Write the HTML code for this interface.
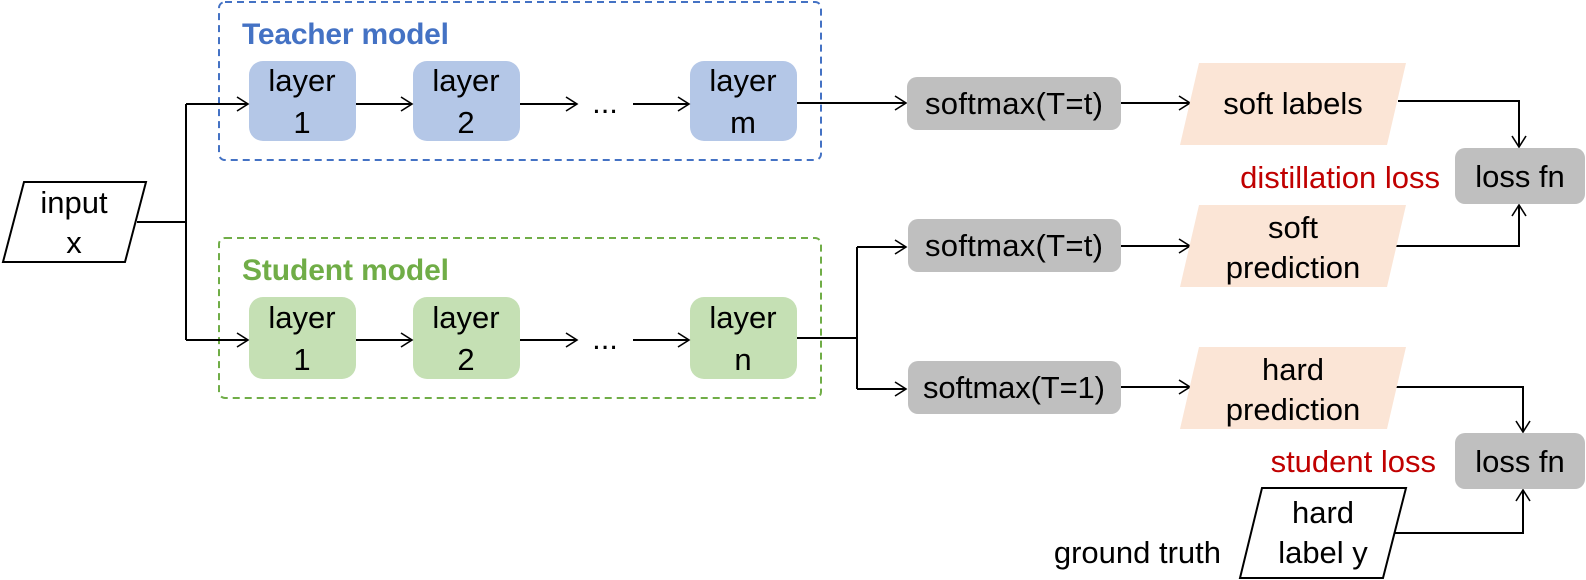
<!DOCTYPE html>
<html><head><meta charset="utf-8"><style>
html,body{margin:0;padding:0;background:#fff;}
svg{display:block;}
text{font-family:"Liberation Sans",sans-serif;}
</style></head><body>
<svg width="1586" height="580" viewBox="0 0 1586 580" xmlns="http://www.w3.org/2000/svg">
<defs>
<marker id="a" markerWidth="14" markerHeight="16" refX="12" refY="8" orient="auto" markerUnits="userSpaceOnUse">
<polyline points="1,1 12,8 1,15" fill="none" stroke="#000" stroke-width="1.6"/>
</marker>
</defs>
<g fill="none" stroke-width="2" stroke-dasharray="7,5">
<rect x="219" y="2" width="602" height="158" rx="6" stroke="#4472C4"/>
<rect x="219" y="238" width="602" height="160" rx="6" stroke="#70AD47"/>
</g>
<text x="242" y="44" font-size="30" font-weight="bold" fill="#4472C4" textLength="207">Teacher model</text>
<text x="242" y="280" font-size="30" font-weight="bold" fill="#70AD47" textLength="207">Student model</text>

<g fill="#B4C7E7">
<rect x="249" y="61" width="107" height="80" rx="14"/>
<rect x="413" y="61" width="107" height="80" rx="14"/>
<rect x="690" y="61" width="107" height="80" rx="14"/>
</g>
<g fill="#C5E0B4">
<rect x="249" y="297" width="107" height="82" rx="14"/>
<rect x="413" y="297" width="107" height="82" rx="14"/>
<rect x="690" y="297" width="107" height="82" rx="14"/>
</g>
<g font-size="31" text-anchor="middle" fill="#000">
<text x="302" y="91">layer</text><text x="302" y="133">1</text>
<text x="466" y="91">layer</text><text x="466" y="133">2</text>
<text x="743" y="91">layer</text><text x="743" y="133">m</text>
<text x="302" y="328">layer</text><text x="302" y="370">1</text>
<text x="466" y="328">layer</text><text x="466" y="370">2</text>
<text x="743" y="328">layer</text><text x="743" y="370">n</text>
<text x="605" y="113">...</text>
<text x="605" y="349">...</text>
</g>

<polygon points="24,182 146,182 125,262 3,262" fill="#fff" stroke="#000" stroke-width="2"/>
<text x="74" y="213" font-size="31" text-anchor="middle">input</text>
<text x="74" y="253" font-size="31" text-anchor="middle">x</text>

<g stroke="#000" stroke-width="2" fill="none">
<polyline points="137,222 186,222"/>
<polyline points="186,104 186,340"/>
<line x1="186" y1="104" x2="248" y2="104" marker-end="url(#a)"/>
<line x1="186" y1="340" x2="248" y2="340" marker-end="url(#a)"/>
<line x1="356" y1="104" x2="412" y2="104" marker-end="url(#a)"/>
<line x1="520" y1="104" x2="577" y2="104" marker-end="url(#a)"/>
<line x1="633" y1="104" x2="689" y2="104" marker-end="url(#a)"/>
<line x1="356" y1="340" x2="412" y2="340" marker-end="url(#a)"/>
<line x1="520" y1="340" x2="577" y2="340" marker-end="url(#a)"/>
<line x1="633" y1="340" x2="689" y2="340" marker-end="url(#a)"/>
<line x1="797" y1="103" x2="906" y2="103" marker-end="url(#a)"/>
<polyline points="797,338 857,338"/>
<polyline points="857,247 857,389"/>
<line x1="857" y1="247" x2="906" y2="247" marker-end="url(#a)"/>
<line x1="857" y1="389" x2="906" y2="389" marker-end="url(#a)"/>
<line x1="1121" y1="103" x2="1190" y2="103" marker-end="url(#a)"/>
<line x1="1121" y1="246" x2="1190" y2="246" marker-end="url(#a)"/>
<line x1="1121" y1="387" x2="1190" y2="387" marker-end="url(#a)"/>
<polyline points="1398,101 1519,101 1519,147" marker-end="url(#a)"/>
<polyline points="1395,246 1519,246 1519,205" marker-end="url(#a)"/>
<polyline points="1395,387 1523,387 1523,432" marker-end="url(#a)"/>
<polyline points="1390,533 1523,533 1523,490" marker-end="url(#a)"/>
</g>

<g fill="#BFBFBF">
<rect x="907" y="77" width="214" height="53" rx="10"/>
<rect x="908" y="219" width="213" height="53" rx="10"/>
<rect x="908" y="361" width="213" height="53" rx="10"/>
<rect x="1455" y="148" width="130" height="56" rx="10"/>
<rect x="1455" y="433" width="130" height="56" rx="10"/>
</g>
<g fill="#FBE5D6">
<polygon points="1199,63 1406,63 1387,145 1180,145"/>
<polygon points="1199,205 1406,205 1387,287 1180,287"/>
<polygon points="1199,347 1406,347 1387,429 1180,429"/>
</g>
<polygon points="1262,488 1406,488 1383,578 1240,578" fill="#fff" stroke="#000" stroke-width="2"/>

<g font-size="31" text-anchor="middle" fill="#000">
<text x="1014" y="114" textLength="178">softmax(T=t)</text>
<text x="1014" y="256" textLength="178">softmax(T=t)</text>
<text x="1014" y="398" textLength="182">softmax(T=1)</text>
<text x="1293" y="114">soft labels</text>
<text x="1293" y="238">soft</text><text x="1293" y="278">prediction</text>
<text x="1293" y="380">hard</text><text x="1293" y="420">prediction</text>
<text x="1520" y="187">loss fn</text>
<text x="1520" y="472">loss fn</text>
<text x="1323" y="523">hard</text><text x="1323" y="563">label y</text>
</g>
<text x="1440" y="188" font-size="31" text-anchor="end" fill="#C00000">distillation loss</text>
<text x="1436" y="472" font-size="31" text-anchor="end" fill="#C00000">student loss</text>
<text x="1221" y="563" font-size="31" text-anchor="end" fill="#000">ground truth</text>
</svg>
</body></html>
